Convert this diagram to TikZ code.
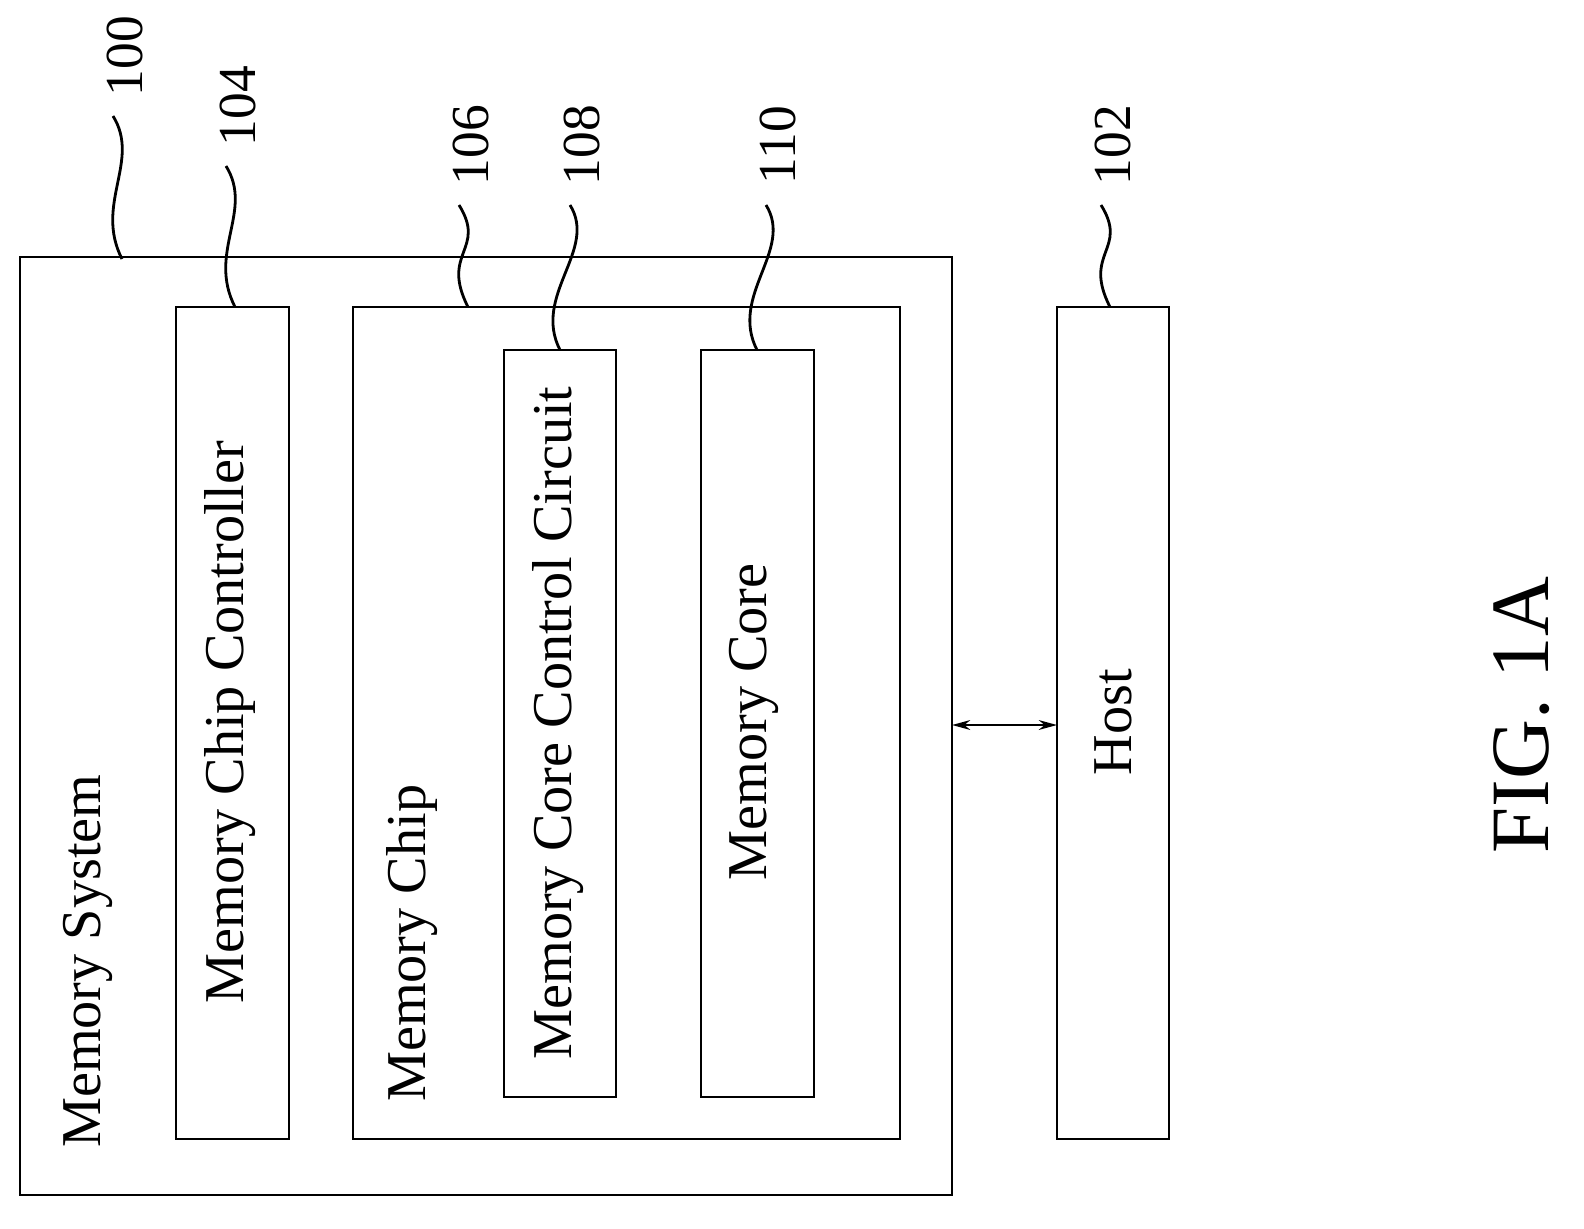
\documentclass[tikz,border=0pt]{standalone}
\usepackage{fontspec}
\setmainfont{Liberation Serif}
\usetikzlibrary{calc,arrows.meta}
\begin{document}
\begin{tikzpicture}[x=0.05cm,y=-0.05cm,
  box/.style={draw,line width=4pt},
  lab/.style={rotate=90,font=\fontsize{80}{90}\selectfont,inner sep=0},
  num/.style={rotate=90,font=\fontsize{76}{86}\selectfont,inner sep=0},
  lead/.style={line width=4pt}]
\useasboundingbox (0,0) rectangle (1584,1228);
\draw[box] (20,257) rectangle (952,1195);
\draw[box] (176,307) rectangle (289,1139);
\draw[box] (353,307) rectangle (900,1139);
\draw[box] (504,350) rectangle (616,1097);
\draw[box] (701,350) rectangle (814,1097);
\draw[box] (1057,307) rectangle (1169,1139);
\node[lab,anchor=west] (ms) at (88,1148) {Memory System};
\node[lab] (mcc) at (230,722) {Memory Chip Controller};
\node[lab,anchor=west] (mc) at (412,1102) {Memory Chip};
\node[lab] (mccc) at (558,723) {Memory Core Control Circuit};
\node[lab] (core) at (754,722) {Memory Core};
\node[lab] (host) at (1113,722) {Host};
\node[rotate=90,inner sep=0,font=\fontsize{118}{130}\selectfont] (fig) at (1522,715) {FIG. 1A};
\coordinate (l) at (952,725); \coordinate (r) at (1057,725);
\draw[line width=3pt,{Stealth[length=26pt,width=14pt]}-{Stealth[length=26pt,width=14pt]}] (l) -- (r);
\foreach \bx/\by/\tx/\ty/\t in {122/259/113/116/100, 235/307/226/166/104, 468/307/459/205/106, 560/350/570/205/108, 757/350/766/205/110, 1110/307/1101/205/102}{
  \coordinate (b\t) at (\bx,\by); \coordinate (t\t) at (\tx,\ty);
  \draw[lead] (b\t) .. controls ($(b\t)+(-28,-55)$) and ($(t\t)+(28,45)$) .. (t\t);
  \node[num] (n\t) at ($(t\t)+(12,-60)$) {\t};
}
\end{tikzpicture}
\end{document}
